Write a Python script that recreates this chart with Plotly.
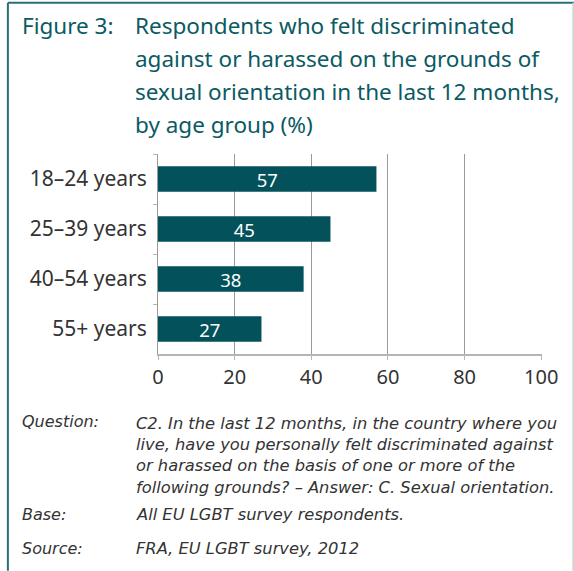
import plotly.graph_objects as go

categories = ["18–24 years", "25–39 years", "40–54 years", "55+ years"]
values = [57, 45, 38, 27]
x_ticks = [0, 20, 40, 60, 80, 100]

title_label = "Figure 3:"
title_lines = [
    "Respondents who felt discriminated",
    "against or harassed on the grounds of",
    "sexual orientation in the last 12 months,",
    "by age group (%)",
]
notes = [
    ("Question:", [
        "C2. In the last 12 months, in the country where you",
        "live, have you personally felt discriminated against",
        "or harassed on the basis of one or more of the",
        "following grounds? – Answer: C. Sexual orientation.",
    ]),
    ("Base:", ["All EU LGBT survey respondents."]),
    ("Source:", ["FRA, EU LGBT survey, 2012"]),
]

W, H = 574, 571
L, R, T, B = 158, 541.7, 154.3, 354.3
TEAL = "#0b5a63"
BAR = "#03525b"
FONT = "Noto Sans"
NOTE_FONT = "DejaVu Sans"


def px(x):
    return (x - L) / (R - L)


def py(y):
    return (B - y) / (B - T)


fig = go.Figure()
fig.add_trace(go.Bar(
    y=categories, x=values, orientation="h",
    marker=dict(color=BAR, line=dict(width=0)),
    width=0.51,
    text=[str(v) for v in values], textposition="inside", textangle=0,
    insidetextanchor="middle", constraintext="none",
    textfont=dict(color="white", size=18.5, family=FONT),
    hoverinfo="skip",
))

ann = []
ann.append(dict(text=title_label, x=px(20), y=py(26), xanchor="left", yanchor="middle",
                font=dict(size=22.5, color=TEAL, family=FONT)))
title_y = [26, 59, 92, 125]
for i, line in enumerate(title_lines):
    ann.append(dict(text=line, x=px(133), y=py(title_y[i]), xanchor="left", yanchor="middle",
                    font=dict(size=22.5, color=TEAL, family=FONT)))

# Question block (one multi-line annotation), then Base and Source
q_label, q_lines = notes[0]
ann.append(dict(text="<i>" + q_label + "</i>", x=px(20), y=py(422), xanchor="left",
                yanchor="middle", font=dict(size=16, color="#333333", family=NOTE_FONT)))
ann.append(dict(text="<i>" + "<br>".join(q_lines) + "</i>", x=px(134), y=py(412),
                xanchor="left", yanchor="top", align="left",
                font=dict(size=16.3, color="#333333", family=NOTE_FONT)))
for (label, lines), yy in zip(notes[1:], [515, 549]):
    ann.append(dict(text="<i>" + label + "</i>", x=px(20), y=py(yy), xanchor="left",
                    yanchor="middle", font=dict(size=16, color="#333333", family=NOTE_FONT)))
    ann.append(dict(text="<i>" + lines[0] + "</i>", x=px(134), y=py(yy), xanchor="left",
                    yanchor="middle", font=dict(size=16.3, color="#333333", family=NOTE_FONT)))
for a in ann:
    a.update(xref="paper", yref="paper", showarrow=False)

shapes = [
    dict(type="line", xref="paper", yref="paper", x0=px(8), x1=px(574), y0=py(3), y1=py(3),
         line=dict(color="#2a6f76", width=2)),
    dict(type="line", xref="paper", yref="paper", x0=px(8), x1=px(8), y0=py(3), y1=py(571),
         line=dict(color="#2a6f76", width=2)),
    dict(type="line", xref="paper", yref="paper", x0=px(573), x1=px(573), y0=py(3), y1=py(571),
         line=dict(color="#cfd4d6", width=2)),
]

fig.update_layout(
    width=W, height=H,
    margin=dict(l=L, r=W - R, t=T, b=H - B, pad=0),
    paper_bgcolor="white", plot_bgcolor="white",
    showlegend=False,
    annotations=ann, shapes=shapes,
    xaxis=dict(range=[0, 100.2], tickvals=x_ticks, ticktext=[str(t) for t in x_ticks],
               showgrid=True, gridcolor="#9a9a9a", gridwidth=1,
               showline=True, linecolor="#b5b5b5", linewidth=1.5,
               ticks="outside", ticklen=4, tickcolor="#b5b5b5", tickwidth=1,
               zeroline=False, fixedrange=True,
               tickfont=dict(size=20, color="#333333", family=FONT)),
    yaxis=dict(categoryorder="array", categoryarray=categories, autorange="reversed",
               showline=True, linecolor="#9a9a9a", linewidth=1,
               ticks="outside", ticklen=4, tickcolor="#b5b5b5", tickson="boundaries",
               ticklabelstandoff=6, showgrid=False, zeroline=False, fixedrange=True,
               tickfont=dict(size=21, color="#333333", family=FONT)),
    font=dict(family=FONT),
)

fig.write_html("out.html", config={"displayModeBar": False},
               post_script="document.body.style.margin='0';")
